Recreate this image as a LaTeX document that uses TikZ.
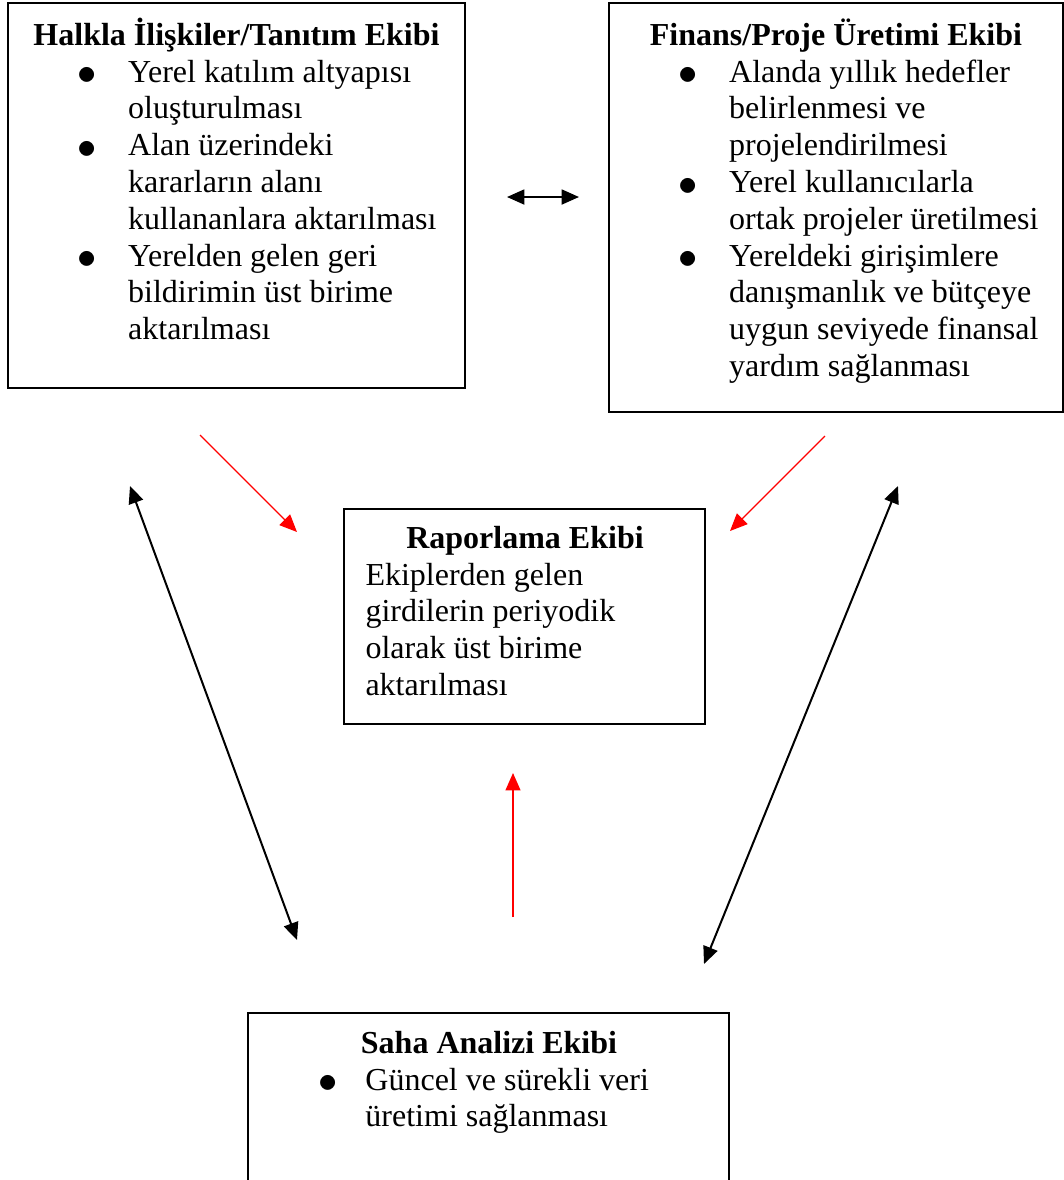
\documentclass[tikz,border=0pt]{standalone}
\usepackage{fontspec}
\setmainfont{Liberation Serif}
\usetikzlibrary{arrows.meta}
\newcommand{\nokta}{\raisebox{-1.1pt}{\scalebox{1.2}{$\bullet$}}}

\begin{document}
\begin{tikzpicture}[x=0.375pt, y=-0.375pt, font=\fontsize{12pt}{13.8pt}\selectfont,
	kutu/.style={draw, line width=0.75pt, inner sep=0pt},
	baslik/.style={anchor=base, inner sep=0pt},
	metin/.style={anchor=base west, inner sep=0pt},
	ok/.style={>={Triangle[length=6.5pt, width=5.6pt]}, line width=0.75pt},
	kirmizi/.style={ok, color=red, line width=0.5pt}]
	\useasboundingbox (0, 0) rectangle (1064, 1180);
	\coordinate (hfSol) at (507, 197);
	\coordinate (hfSag) at (579, 197);
	\coordinate (hrBas) at (200, 435);
	\coordinate (hrUc) at (297, 532);
	\coordinate (frBas) at (825, 436);
	\coordinate (frUc) at (730, 531);
	\coordinate (srBas) at (513, 917);
	\coordinate (srUc) at (513, 773);
	\coordinate (hsUst) at (130, 486);
	\coordinate (hsAlt) at (297, 940);
	\coordinate (fsUst) at (898, 486);
	\coordinate (fsAlt) at (704, 964);
	\node[kutu, minimum width=171.4pt, minimum height=144.4pt] (halkla) at (236.5, 195.5) {};
	\node[kutu, minimum width=170.25pt, minimum height=153.4pt] (finans) at (836, 207.5) {};
	\node[kutu, minimum width=135.4pt, minimum height=80.6pt] (rapor) at (524.5, 616.5) {};
	\node[kutu, minimum width=180.4pt, minimum height=70.1pt] (saha) at (488.5, 1106.5) {};
	\node[baslik] (halklaBaslik) at (236.5, 45) {\textbf{Halkla İlişkiler/Tanıtım Ekibi}};
	\node[metin] (halklaMetin) at (77, 82) {\begin{tabular}[t]{@{}p{19pt}@{}l@{}}
		\nokta & Yerel katılım altyapısı\\
		& oluşturulması\\
		\nokta & Alan üzerindeki\\
		& kararların alanı\\
		& kullananlara aktarılması\\
		\nokta & Yerelden gelen geri\\
		& bildirimin üst birime\\
		& aktarılması
	\end{tabular}};
	\node[baslik] (finansBaslik) at (836, 45) {\textbf{Finans/Proje Üretimi Ekibi}};
	\node[metin] (finansMetin) at (678, 82) {\begin{tabular}[t]{@{}p{19pt}@{}l@{}}
		\nokta & Alanda yıllık hedefler\\
		& belirlenmesi ve\\
		& projelendirilmesi\\
		\nokta & Yerel kullanıcılarla\\
		& ortak projeler üretilmesi\\
		\nokta & Yereldeki girişimlere\\
		& danışmanlık ve bütçeye\\
		& uygun seviyede finansal\\
		& yardım sağlanması
	\end{tabular}};
	\node[baslik] (raporBaslik) at (525, 548) {\textbf{Raporlama Ekibi}};
	\node[metin] (raporMetin) at (365, 585) {\begin{tabular}[t]{@{}l@{}}
		Ekiplerden gelen\\
		girdilerin periyodik\\
		olarak üst birime\\
		aktarılması
	\end{tabular}};
	\node[baslik] (sahaBaslik) at (489, 1053) {\textbf{Saha Analizi Ekibi}};
	\node[metin] (sahaMetin) at (318, 1090) {\begin{tabular}[t]{@{}p{17.6pt}@{}l@{}}
		\nokta & Güncel ve sürekli veri\\
		& üretimi sağlanması
	\end{tabular}};
	\draw[<->, ok] (hfSol) -- (hfSag);
	\draw[->, kirmizi] (hrBas) -- (hrUc);
	\draw[->, kirmizi] (frBas) -- (frUc);
	\draw[->, kirmizi] (srBas) -- (srUc);
	\draw[<->, ok] (hsUst) -- (hsAlt);
	\draw[<->, ok] (fsUst) -- (fsAlt);
\end{tikzpicture}
\end{document}
